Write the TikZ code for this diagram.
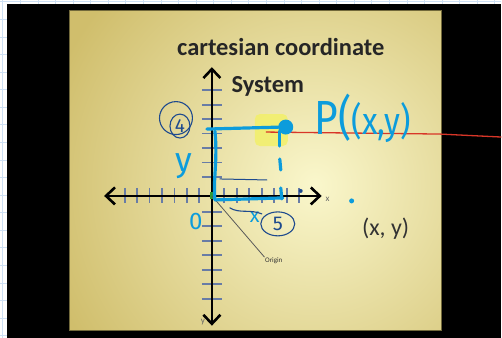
\documentclass[tikz,border=0pt]{standalone}
\usepackage{fontspec}
\setmainfont{Carlito}
\newfontfamily\handfont{Fira Sans}
\usepackage{tikz}
\usetikzlibrary{arrows.meta, positioning}
\definecolor{pen}{RGB}{12,156,220}
\definecolor{ink}{RGB}{30,74,142}
\definecolor{tickcol}{RGB}{104,124,166}
\definecolor{slide}{RGB}{208,190,108}
\definecolor{glow}{RGB}{250,247,204}
\definecolor{paper}{RGB}{206,224,244}
\definecolor{redpen}{RGB}{216,54,40}
\definecolor{hilite}{RGB}{242,240,100}

\begin{document}
\begin{tikzpicture}[
    x=1pt, y=-1pt,
    axisline/.style={black, line width=2.6pt,
      {Straight Barb[length=9pt, width=17pt]}-{Straight Barb[length=9pt, width=17pt]}},
    tk/.style={tickcol, line width=1.9pt},
    title/.style={font=\bfseries\fontsize{24.5}{24.5}\selectfont, text=black!85, anchor=base, inner sep=0pt},
    axlabel/.style={font=\fontsize{9}{9}\selectfont, text=black!60, inner sep=0pt},
    handline/.style={pen, line width=3.2pt, line cap=round, line join=round},
    handtext/.style={text=pen, inner sep=0pt, font=\handfont},
    inktext/.style={text=ink, inner sep=0pt, font=\handfont},
    inkline/.style={ink, line width=1.1pt, line cap=round}
  ]
  % paper and screen
  \fill[white] (0,0) rectangle (502,338);
  \foreach \gx in {0,...,28} \draw[paper, line width=0.6pt] ({2.5+17.6*\gx},0) -- ({2.5+17.6*\gx},338);
  \foreach \gy in {0,...,19} \draw[paper, line width=0.6pt] (0,{1.5+17.6*\gy}) -- (502,{1.5+17.6*\gy});
  \fill[black] (7,4) rectangle (502,338);

  % slide
  \begin{scope}
    \clip (69,10) rectangle (442,331);
    \fill[slide] (69,10) rectangle (442,331);
    \shade[inner color=glow, outer color=slide] (315,185) circle (280);
  \end{scope}
  \draw[black!45!slide, line width=1pt] (69,10) rectangle (442,331);

  \node[title] (t1) at (281,55) {cartesian coordinate};
  \node[title] (t2) at (268,92) {System};

  % axes
  \coordinate (O)  at (212,196);
  \coordinate (xl) at (104,196);
  \coordinate (xr) at (322,196);
  \coordinate (yt) at (212,67);
  \coordinate (yb) at (212,326);
  \foreach \i in {1,...,7} {
    \draw[tk] ({212-12.5*\i},188) -- ({212-12.5*\i},203);
    \draw[tk] ({212+12.5*\i},188) -- ({212+12.5*\i},203);
  }
  \foreach \i in {0,...,6} {
    \draw[tk] (202,{90+14.5*\i}) -- (222,{90+14.5*\i});
    \draw[tk] (202,{212+14.5*\i}) -- (222,{212+14.5*\i});
  }
  \draw[axisline] (xl) -- (xr);
  \draw[axisline] (yb) -- (yt);
  \fill[green!50!black!80] (210.5,192) rectangle (213.5,199);
  \node[axlabel] (xlab) at (328,199) {x};
  \node[axlabel] (ylab) at (203,322) {y};

  \node[font=\fontsize{7}{7}\selectfont, text=black!80, inner sep=0.5pt] (orig) at (274,261) {Origin};
  \draw[black!65, line width=0.8pt] (O) -- (orig.north west);

  \node[font=\fontsize{24}{24}\selectfont, text=black!80, inner sep=0pt] (pt) at (386,229) {(x, y)};

  % annotations
  \fill[hilite, opacity=0.8, rounded corners=5pt] (255,114) rectangle (288,146);
  \coordinate (redstart) at (266,132);
  \coordinate (redend) at (502,137);
  \draw[redpen, line width=1.3pt] (redstart) -- (440,134) -- (redend);

  \draw[handline] (207,129) -- (282,127);
  \draw[handline] (215,131) .. controls (218,160) and (213,180) .. (215,200) -- (283,198);
  \draw[handline] (280,131) -- (280,146);
  \draw[handline] (280,159) -- (281,170);
  \draw[handline] (281,188) -- (282,199);
  \node[circle, fill=pen, minimum size=15pt, inner sep=0pt] (pdot) at (286,127) {};
  \draw[inkline, line width=1pt] (220,179) -- (267,180);

  \node[handtext, anchor=base west, xscale=0.85] (plabel) at (315,134)
    {{\fontsize{48}{48}\selectfont P(}{\fontsize{38}{38}\selectfont(x,y)}};
  \node[handtext, font=\handfont\fontsize{34}{34}\selectfont] (ylet) at (184,166) {y};
  \node[handtext, font=\handfont\fontsize{24}{24}\selectfont] (zero) at (196,222) {0};
  \node[handtext, font=\handfont\fontsize{20}{20}\selectfont] (xlet) at (255,217) {x};

  \node[inktext, font=\handfont\fontsize{20}{20}\selectfont] (five) at (278,224) {5};
  \draw[inkline] (five) ellipse (17 and 12);
  \draw[inkline] (230,208) .. controls (240,214) and (250,209) .. (262,214);

  \node[inktext, font=\handfont\fontsize{19}{19}\selectfont] (four) at (180,126) {4};
  \draw[inkline] (176,118) circle (16.5);
  \draw[inkline] (four) ellipse (10 and 12);

  \node[circle, fill=ink, minimum size=4pt, inner sep=0pt] (dk) at (301,191) {};
  \node[circle, fill=pen, minimum size=5pt, inner sep=0pt] (bd) at (352,201) {};
\end{tikzpicture}
\end{document}
